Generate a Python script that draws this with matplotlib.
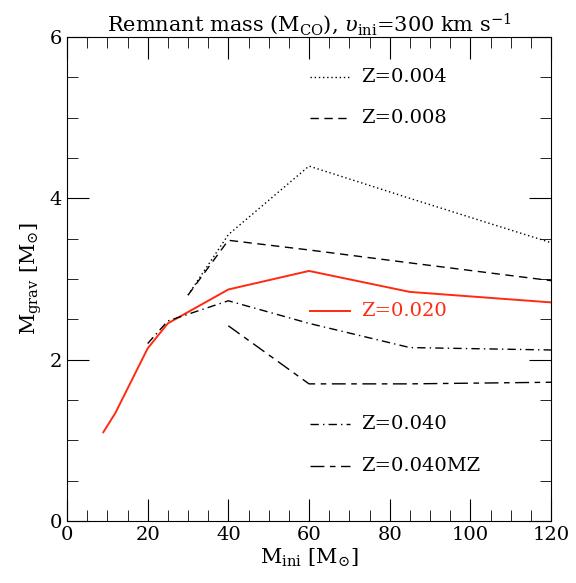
import matplotlib
matplotlib.use('Agg')
import matplotlib.pyplot as plt

plt.rcParams['font.family'] = ['DejaVu Serif']
plt.rcParams['mathtext.fontset'] = 'dejavuserif'

m004 = [30, 40, 60, 85, 120]
z004 = [2.80, 3.55, 4.40, 4.00, 3.45]
m008 = [30, 40, 60, 85, 120]
z008 = [2.80, 3.48, 3.36, 3.20, 2.98]
m020 = [9, 12, 20, 25, 40, 60, 85, 120]
z020 = [1.10, 1.34, 2.14, 2.45, 2.87, 3.10, 2.84, 2.71]
m040 = [20, 25, 40, 60, 85, 120]
z040 = [2.20, 2.48, 2.73, 2.45, 2.15, 2.12]
m040mz = [40, 60, 85, 120]
z040mz = [2.42, 1.70, 1.70, 1.72]

fig = plt.figure(figsize=(5.76, 5.83), dpi=100)
ax = fig.add_axes([67/576, 62/583, 484/576, 484/583])

lw = 1.0
red = '#ff2a10'
ax.plot(m004, z004, color='black', lw=lw, ls=(0, (1, 2)))
ax.plot(m008, z008, color='black', lw=lw, ls=(0, (6, 4)))
ax.plot(m020, z020, color=red, lw=1.4)
ax.plot(m040, z040, color='black', lw=lw, ls=(0, (6, 3, 1, 3)))
ax.plot(m040mz, z040mz, color='black', lw=lw, ls=(0, (10, 4, 4, 4)))

# legend drawn as text and sample lines in data coordinates
leg = [(5.5, (0, (1, 2)), 'black', 'Z=0.004'),
       (5.0, (0, (6, 4)), 'black', 'Z=0.008'),
       (2.6, '-', red, 'Z=0.020'),
       (1.2, (0, (6, 3, 1, 3)), 'black', 'Z=0.040'),
       (0.68, (0, (10, 4, 4, 4)), 'black', 'Z=0.040MZ')]
for y, ls, c, t in leg:
    ax.plot([60.3, 70.2], [y, y], color=c, ls=ls, lw=1.4 if c != 'black' else lw)
    ax.text(73, y, t, color=c, fontsize=14, va='center')

ax.set_xlim(0, 120)
ax.set_ylim(0, 6)
ax.set_xticks([0, 20, 40, 60, 80, 100, 120])
ax.set_xticks(range(0, 121, 5), minor=True)
ax.set_yticks([0, 2, 4, 6])
ax.set_yticks([i * 0.5 for i in range(13)], minor=True)
ax.tick_params(which='both', direction='in', top=True, right=True, labelsize=14)
ax.tick_params(which='major', length=16)
ax.tick_params(which='minor', length=8)
ax.set_xlabel(r'M$_{\rm ini}$ [M$_{\odot}$]', fontsize=15, labelpad=2)
ax.set_ylabel(r'M$_{\rm grav}$ [M$_{\odot}$]', fontsize=15)
ax.set_title(r'Remnant mass (M$_{\rm CO}$), $\upsilon_{\rm ini}$=300 km s$^{-1}$', fontsize=15, pad=4)

fig.savefig('out.png', dpi=100)
